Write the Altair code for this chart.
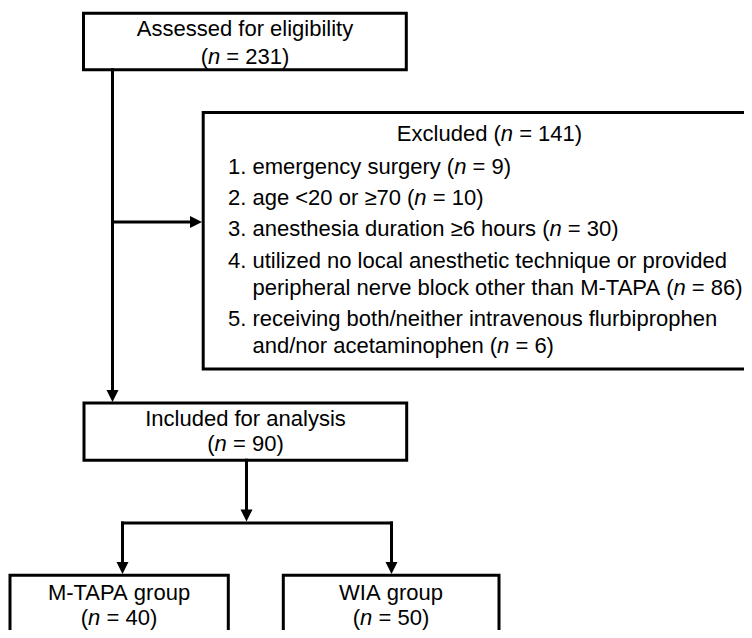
import altair as alt
import pandas as pd

# ---------------- data (page-pixel coordinates) -------------
box_name = ["assessed", "excluded", "included", "mtapa", "wia"]
box_left = [83.5, 203.2, 84.0, 10.0, 283.3]
box_right = [406.3, 776.0, 406.7, 228.3, 499.0]
box_top = [13.3, 112.5, 403.0, 575.3, 575.3]
box_bottom = [69.7, 369.0, 460.2, 660.0, 660.0]

line_x1 = [112.5, 112.5, 246.5, 122.5, 122.5, 391.5]
line_y1 = [69.7, 222.0, 460.2, 523.0, 523.0, 523.0]
line_x2 = [112.5, 192.0, 246.5, 391.5, 122.5, 391.5]
line_y2 = [392.0, 222.0, 511.0, 523.0, 563.0, 563.0]

down_tip_x = [112.5, 246.5, 122.5, 391.5]
down_tip_y = [402.0, 521.5, 574.0, 574.0]
right_tip_x = [202.0]
right_tip_y = [222.0]

# text lines; *n* marks the italic n
text_str = [
    "Assessed for eligibility",
    "(*n* = 231)",
    "Excluded (*n* = 141)",
    "1. emergency surgery (*n* = 9)",
    "2. age <20 or \u226570 (*n* = 10)",
    "3. anesthesia duration \u22656 hours (*n* = 30)",
    "4. utilized no local anesthetic technique or provided",
    "peripheral nerve block other than M-TAPA (*n* = 86)",
    "5. receiving both/neither intravenous flurbiprophen",
    "and/nor acetaminophen (*n* = 6)",
    "Included for analysis",
    "(*n* = 90)",
    "M-TAPA group",
    "(*n* = 40)",
    "WIA group",
    "(*n* = 50)",
]
text_x = [245, 245, 489.5, 228, 228, 228, 228, 252.5, 228, 252.5,
          245.5, 245.5, 119, 119, 391, 391]
text_y = [36, 64, 141, 174, 205, 236, 268, 295, 326, 353,
          425.5, 451, 600, 625, 600, 625]
text_align = ["center", "center", "center", "left", "left", "left", "left", "left",
              "left", "left", "center", "center", "center", "center", "center", "center"]
RIGHT_LIMIT = 743.0

FONT = "Liberation Sans"
FS = 22

# Arial / Liberation Sans advance widths (per 1000 em)
W = {" ": 278, "(": 333, ")": 333, "-": 333, ".": 278, "/": 278, "<": 584, "=": 584,
     ">": 584, "\u2265": 549}
for d in "0123456789":
    W[d] = 556
W.update(dict(zip("ABCDEFGHIJKLMNOPQRSTUVWXYZ",
                  [667, 667, 722, 722, 667, 611, 778, 722, 278, 500, 667, 556, 833,
                   722, 778, 667, 778, 722, 667, 611, 722, 667, 944, 667, 667, 611])))
W.update(dict(zip("abcdefghijklmnopqrstuvwxyz",
                  [556, 556, 500, 556, 556, 278, 556, 556, 222, 222, 500, 222, 833,
                   556, 556, 556, 556, 333, 500, 278, 556, 500, 722, 500, 500, 500])))
# kerning that the browser applies inside a word
KERN = {"TA": -74, "PA": -74, "AT": -74}


def width(s, kern=False):
    w = sum(W.get(c, 556) for c in s)
    if kern:
        w += sum(KERN.get(s[i:i + 2], 0) for i in range(len(s) - 1))
    return w * FS / 1000.0


# lay every line out word by word (italic n as its own piece), using the font metrics
rows_normal, rows_italic = [], []
for s, x, y, a in zip(text_str, text_x, text_y, text_align):
    pieces = []
    for i, part in enumerate(s.split("*")):
        if not part:
            continue
        if i % 2 == 1:
            pieces.append((part, True))
            continue
        words = part.split(" ")
        for j, w in enumerate(words):
            if w:
                pieces.append((w, False))
            if j < len(words) - 1:
                pieces.append((" ", False))
    adv = [width(p, kern=True) for p, _ in pieces]
    total = sum(adv)
    start = x - total / 2 if a == "center" else x
    n_space = sum(1 for p, _ in pieces if p == " ")
    squeeze = max(0.0, start + total - RIGHT_LIMIT) / max(n_space, 1)
    cur = start
    for (p, it), w in zip(pieces, adv):
        if p == " ":
            cur += w - squeeze
            continue
        (rows_italic if it else rows_normal).append({"x": cur, "y": y, "t": p})
        cur += w

boxes = pd.DataFrame({"name": box_name, "x": box_left, "x2": box_right,
                      "y": box_top, "y2": box_bottom})
lines = pd.DataFrame({"x": line_x1, "y": line_y1, "x2": line_x2, "y2": line_y2})
downs = pd.DataFrame({"x": down_tip_x, "y": down_tip_y})
rights = pd.DataFrame({"x": right_tip_x, "y": right_tip_y})
tn = pd.DataFrame(rows_normal)
ti = pd.DataFrame(rows_italic)

xs = alt.Scale(domain=[8, 744], nice=False, zero=False)
ys = alt.Scale(domain=[8, 630], nice=False, zero=False, reverse=True)
X = alt.X("x:Q", scale=xs, axis=None)
Y = alt.Y("y:Q", scale=ys, axis=None)

rects = alt.Chart(boxes).mark_rect(fill="white", stroke="black", strokeWidth=3,
                                   clip=True).encode(X, Y, x2="x2:Q", y2="y2:Q")
rules = alt.Chart(lines).mark_rule(color="black", strokeWidth=3,
                                   strokeCap="square").encode(X, Y, x2="x2:Q", y2="y2:Q")
down_arrows = alt.Chart(downs).mark_point(
    shape="M0,0L-0.5,-1L0.5,-1Z", filled=True, size=576, color="black", opacity=1,
    strokeWidth=0).encode(X, Y)
right_arrows = alt.Chart(rights).mark_point(
    shape="M0,0L-1,-0.5L-1,0.5Z", filled=True, size=576, color="black", opacity=1,
    strokeWidth=0).encode(X, Y)
txt_n = alt.Chart(tn).mark_text(font=FONT, fontSize=FS, align="left",
                                baseline="alphabetic", color="black").encode(X, Y, text="t:N")
txt_i = alt.Chart(ti).mark_text(font=FONT, fontSize=FS, align="left", fontStyle="italic",
                                baseline="alphabetic", color="black").encode(X, Y, text="t:N")

chart = alt.layer(rects, rules, down_arrows, right_arrows, txt_n, txt_i).properties(
    width=736, height=622, autosize="none", padding=0
).configure_view(stroke=None)

chart.save("out.html", embed_options={"renderer": "svg", "actions": False})
